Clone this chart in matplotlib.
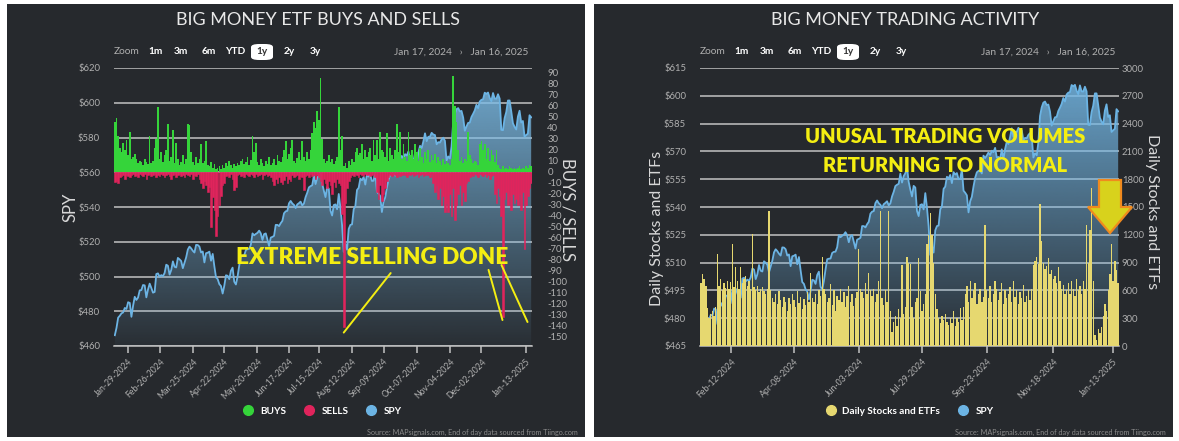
import numpy as np
import pandas as pd
import matplotlib
matplotlib.use("Agg")
import matplotlib.pyplot as plt
from matplotlib.colors import LinearSegmentedColormap, to_rgb
from matplotlib.lines import Line2D
from matplotlib.patches import Rectangle, FancyBboxPatch, Polygon

# ---------------- data ----------------
holidays = ["2024-02-19", "2024-03-29", "2024-05-27", "2024-06-19", "2024-07-04",
            "2024-09-02", "2024-11-28", "2024-12-25", "2025-01-01", "2025-01-09"]

spy_jan24 = [466.2, 470.4, 476.3, 477.4, 478.8, 479.3, 481.9, 481.3, 485.2, 484.8, 476.8]
spy_feb = [483.1, 488.3, 486.5, 487.9, 492.0, 492.2, 495.1, 494.9, 488.0, 492.5, 495.9, 493.4,
           490.7, 491.1, 501.4, 501.8, 499.9, 500.8, 500.2, 502.0]
spy_mar = [506.8, 506.2, 501.1, 503.7, 508.7, 505.6, 505.2, 510.7, 509.9, 508.9, 504.8, 507.9,
           511.0, 515.5, 517.2, 516.2, 514.8, 513.8, 518.2, 518.1]
spy_apr = [517.2, 513.8, 514.4, 508.1, 513.4, 513.7, 514.3, 509.1, 513.0, 505.9, 499.5, 498.5,
           495.6, 494.5, 490.2, 494.7, 500.7, 500.4, 498.5, 503.3, 505.1, 497.0]
spy_may = [495.4, 500.0, 506.3, 511.8, 512.1, 512.2, 515.2, 515.8, 515.9, 518.3, 524.8, 523.7,
           524.5, 525.1, 526.4, 524.8, 521.0, 524.4, 524.8, 521.1, 517.6, 522.4]
spy_jun = [522.8, 523.4, 529.7, 529.7, 529.0, 530.7, 532.0, 536.4, 537.5, 537.8, 542.1, 543.5,
           542.0, 541.2, 539.4, 541.5, 542.2, 543.1, 540.9]
spy_jul = [542.0, 545.7, 548.2, 551.3, 552.0, 552.5, 558.0, 553.2, 556.7, 558.2, 561.6, 553.6,
           549.4, 545.7, 551.4, 550.5, 537.9, 535.1, 541.1, 541.5, 538.7, 547.5]
spy_aug = [539.7, 529.6, 514.1, 518.9, 515.4, 527.4, 529.7, 530.0, 538.7, 540.5, 549.8, 551.0,
           556.3, 555.4, 557.3, 552.9, 558.8, 557.5, 558.3, 555.0, 555.1, 560.4]
spy_sep = [548.8, 547.7, 546.3, 537.1, 543.1, 545.5, 551.1, 555.8, 558.7, 559.5, 559.8, 558.1,
           567.7, 566.4, 567.8, 569.4, 568.1, 570.4, 569.6, 571.9]
spy_oct = [566.7, 567.0, 565.9, 571.1, 565.9, 571.3, 575.2, 574.0, 577.7, 582.4, 577.9, 580.4,
           580.5, 582.7, 581.7, 581.4, 576.1, 577.3, 577.1, 578.9, 579.9, 578.1, 566.7]
spy_nov = [569.1, 567.9, 574.8, 589.1, 593.7, 596.3, 596.9, 595.0, 595.3, 591.5, 583.9, 586.3,
           588.4, 588.6, 591.8, 593.6, 595.6, 598.8, 596.9, 600.7]
spy_dec = [601.7, 602.0, 605.8, 605.1, 605.9, 602.8, 600.9, 605.6, 602.4, 602.3, 604.9, 602.4,
           584.4, 584.2, 591.2, 594.7, 601.3, 601.3, 595.0, 588.2, 586.1]
spy_jan25 = [584.6, 592.0, 595.4, 588.6, 589.5, 580.5, 581.4, 582.2, 592.8, 591.6]

buys = ([45, 49, 33, 22, 18, 26, 20, 29, 15, 36, 12]
        + [14, 16, 12, 8, 10, 9, 6, 12, 9, 7, 33, 8, 10, 22, 30, 59, 12, 18, 9, 15]
        + [20, 44, 10, 14, 38, 8, 26, 12, 6, 9, 15, 7, 12, 44, 43, 18, 9, 6, 14, 8]
        + [12, 25, 8, 10, 28, 6, 5, 9, 4, 7, 3, 4, 5, 3, 6, 4, 8, 5, 10, 6, 4, 7]
        + [5, 8, 6, 10, 12, 7, 9, 14, 6, 11, 33, 18, 26, 9, 6, 12, 8, 5, 10, 7, 14, 6]
        + [8, 12, 6, 15, 10, 9, 14, 20, 28, 12, 16, 22, 29, 10, 8, 13, 18, 11, 28]
        + [14, 10, 18, 12, 20, 35, 45, 40, 55, 47, 85, 30, 12, 8, 10, 15, 9, 12, 7, 10, 14, 59]
        + [20, 33, 5, 8, 4, 10, 6, 12, 9, 18, 22, 15, 17, 25, 12, 20, 14, 18, 22, 10, 29, 15]
        + [29, 12, 36, 20, 18, 14, 35, 10, 22, 15, 12, 20, 44, 18, 36, 12, 25, 14, 10, 36]
        + [15, 20, 12, 25, 18, 10, 22, 14, 8, 18, 12, 20, 9, 15, 11, 16, 8, 14, 10, 6, 12, 7, 10]
        + [8, 6, 12, 87, 60, 45, 20, 10, 14, 8, 12, 10, 36, 15, 12, 8, 10, 9, 6, 25]
        + [28, 20, 25, 12, 22, 10, 20, 15, 9, 20, 6, 4, 3, 5, 3, 4, 3, 5, 4, 3, 4]
        + [3, 4, 5, 3, 4, 3, 5, 4, 6, 5])

sells = ([-9, -8, -10, -5, -4, -3, -6, -3, -4, -5, -3]
         + [-2, -4, -3, -5, -2, -3, -4, -2, -6, -3, -2, -4, -3, -2, -5, -3, -4, -2, -3, -5]
         + [-3, -2, -4, -6, -3, -2, -5, -3, -2, -4, -3, -5, -2, -3, -4, -2, -6, -3, -4, -2]
         + [-6, -10, -15, -8, -12, -18, -14, -50, -23, -35, -58, -40, -30, -22, -12, -10, -4, -3, -5, -2, -6, -16]
         + [-14, -3, -2, -4, -3, -5, -2, -3, -4, -2, -3, -5, -2, -4, -3, -2, -6, -3, -2, -4, -3, -5]
         + [-8, -12, -6, -10, -5, -9, -11, -7, -4, -10, -6, -8, -3, -5, -4, -3, -6, -4, -5]
         + [-16, -4, -3, -5, -2, -4, -3, -6, -3, -5, -8, -12, -6, -10, -15, -8, -12, -20, -9, -14, -6, -10]
         + [-12, -38, -141, -28, -15, -8, -5, -3, -4, -2, -3, -5, -2, -3, -4, -2, -3, -2, -4, -3, -2, -5]
         + [-18, -25, -12, -26, -20, -15, -8, -5, -3, -4, -2, -3, -5, -2, -4, -3, -2, -3, -5, -2]
         + [-3, -2, -4, -3, -2, -5, -3, -2, -4, -3, -2, -3, -5, -2, -10, -18, -12, -25, -15, -30, -22, -36, -28]
         + [-36, -20, -40, -15, -44, -30, -20, -12, -30, -18, -26, -10, -8, -5, -3, -4, -2, -3, -5, -2]
         + [-3, -4, -2, -5, -3, -6, -4, -3, -20, -28, -15, -22, -40, -132, -25, -18, -30, -22, -35, -20, -28]
         + [-25, -30, -20, -35, -18, -70, -30, -22, -15, -10])

daily = ([680, 777, 723, 650, 410, 300, 350, 380, 320, 420, 990]
         + [650, 720, 600, 680, 630, 700, 610, 690, 1100, 640, 850, 700, 620, 850, 680, 720, 760, 650, 700, 620]
         + [1210, 640, 600, 650, 580, 620, 640, 590, 560, 610, 1460, 600, 520, 480, 560, 450, 590, 500, 420, 530]
         + [480, 380, 520, 450, 560, 500, 420, 590, 460, 530, 400, 510, 440, 580, 470, 790, 520, 480, 560, 450, 600, 540]
         + [960, 620, 560, 480, 520, 670, 440, 600, 380, 540, 500, 620, 470, 580, 420, 540, 650, 480, 560, 430, 520, 580]
         + [1050, 620, 580, 520, 680, 560, 790, 600, 540, 620, 480, 560, 700, 1460, 520, 440, 600, 480, 1460]
         + [380, 150, 260, 320, 220, 400, 300, 870, 350, 420, 960, 900, 880, 420, 300, 480, 520, 950, 590, 380, 450, 560]
         + [1100, 1200, 1440, 1200, 900, 560, 400, 300, 250, 320, 280, 350, 260, 230, 300, 250, 380, 220, 300, 260, 410, 280]
         + [420, 560, 650, 480, 700, 520, 600, 680, 450, 560, 620, 480, 530, 1310, 600, 520, 650, 480, 560, 700]
         + [620, 500, 580, 680, 450, 600, 520, 560, 640, 480, 700, 530, 600, 450, 580, 520, 660, 480, 540, 600, 500, 620, 870]
         + [920, 960, 880, 1530, 1130, 900, 830, 860, 950, 780, 820, 720, 760, 680, 850, 700, 620, 660, 560, 600]
         + [680, 560, 700, 620, 540, 720, 600, 650, 560, 700, 620, 1310, 900, 1250, 1700, 700, 120, 60, 180, 140, 200]
         + [320, 450, 380, 600, 780, 1100, 700, 920, 820, 680])

spy = (spy_jan24 + spy_feb + spy_mar + spy_apr + spy_may + spy_jun + spy_jul
       + spy_aug + spy_sep + spy_oct + spy_nov + spy_dec + spy_jan25)

left_tick_dates = ["2024-01-29", "2024-02-26", "2024-03-25", "2024-04-22", "2024-05-20",
                   "2024-06-17", "2024-07-15", "2024-08-12", "2024-09-09", "2024-10-07",
                   "2024-11-04", "2024-12-02", "2025-01-13"]
right_tick_dates = ["2024-02-12", "2024-04-08", "2024-06-03", "2024-07-29", "2024-09-23",
                    "2024-11-18", "2025-01-13"]
left_spy_ticks = list(range(460, 621, 20))
bs_ticks = list(range(-150, 91, 10))
right_spy_ticks = list(range(465, 616, 15))
daily_ticks = list(range(0, 3001, 300))

# ---------------- styling ----------------
W, H = 1179, 441
BG = "#26292d"
GRID = "#c2c2c2"
TXT = "#b0b0b0"
GREEN = "#35d43a"
RED = "#e0245c"
BLUE = "#6cb4e4"
YELLOW = "#e6d870"
ANNO = "#f4ee12"

plt.rcParams["font.family"] = ["Lato", "DejaVu Sans"]

dates = pd.bdate_range("2024-01-17", "2025-01-16")
dates = dates[~dates.isin(pd.to_datetime(holidays))]
x = np.arange(len(dates))

fig = plt.figure(figsize=(W / 100, H / 100), dpi=100)
fig.patch.set_facecolor("white")


def fx(px):
    return px / W


def fy(py):
    return 1 - py / H


def rect(x0, y0, x1, y1):
    return [fx(x0), fy(y1), (x1 - x0) / W, (y1 - y0) / H]


for x0, x1 in [(7, 585), (594, 1173)]:
    fig.add_artist(Rectangle((fx(x0), fy(437)), (x1 - x0) / W, 433 / H,
                             transform=fig.transFigure, facecolor=BG,
                             edgecolor="none", zorder=-5))


def spy_area(ax, lo, hi, top_rgb):
    r, g, b = to_rgb(top_rgb)
    cmap = LinearSegmentedColormap.from_list("g", [(r, g, b, 0.04), (r, g, b, 0.88)])
    poly = ax.fill_between(x, spy, lo, color="none", lw=0)
    grad = np.linspace(1, 0, 256).reshape(-1, 1)
    im = ax.imshow(grad, cmap=cmap, aspect="auto", origin="upper",
                   extent=[-0.5, len(x) - 0.5, lo, hi], zorder=1, vmin=0, vmax=1)
    im.set_clip_path(poly.get_paths()[0], transform=ax.transData)
    ax.plot(x, spy, color=BLUE, lw=1.3, zorder=2)
    ax.set_xlim(-0.5, len(x) - 0.5)
    ax.set_ylim(lo, hi)


def style_main(ax, ticks, tick_dates):
    ax.set_facecolor("none")
    ax.set_yticks(ticks)
    ax.set_yticklabels([f"${t}" for t in ticks])
    ax.grid(axis="y", color=GRID, lw=1.1)
    ax.set_axisbelow(True)
    for s in ["top", "left", "right"]:
        ax.spines[s].set_visible(False)
    ax.spines["bottom"].set_color(GRID)
    ax.spines["bottom"].set_linewidth(1.1)
    ax.tick_params(axis="y", length=0, colors=TXT, labelsize=6.8, pad=10)
    pos = [dates.get_loc(pd.Timestamp(d)) for d in tick_dates]
    ax.set_xticks(pos)
    ax.set_xticklabels([pd.Timestamp(d).strftime("%b-%d-%Y") for d in tick_dates],
                       rotation=45, ha="right", va="top", rotation_mode="anchor")
    ax.tick_params(axis="x", length=5, width=1.1, color=GRID, colors=TXT,
                   labelsize=6.2, pad=3)


def style_twin(ax, ticks, pad):
    ax.set_yticks(ticks)
    ax.set_yticklabels([str(t) for t in ticks])
    for s in ax.spines.values():
        s.set_visible(False)
    ax.tick_params(axis="y", length=0, colors=TXT, labelsize=6.8, pad=pad)


def zoom_row(x0, xr, y=52):
    items = [("Zoom", 0), ("1m", 34), ("3m", 60), ("6m", 88), ("YTD", 111),
             ("1y", 148), ("2y", 170), ("3y", 196)]
    for lab, off in items:
        if lab == "1y":
            fig.add_artist(FancyBboxPatch((fx(x0 + off - 11), fy(y + 8)), 22 / W, 16 / H,
                                          boxstyle="round,pad=0,rounding_size=0.007",
                                          transform=fig.transFigure, facecolor="white",
                                          edgecolor="none"))
            fig.text(fx(x0 + off), fy(y), lab, ha="center", va="center", fontsize=7.3,
                     color="#333333", fontweight="bold")
        elif lab == "Zoom":
            fig.text(fx(x0 + off), fy(y), lab, ha="left", va="center", fontsize=7.3, color=TXT)
        else:
            fig.text(fx(x0 + off), fy(y), lab, ha="left", va="center", fontsize=7.3,
                     color="white", fontweight="bold")
    fig.text(fx(xr), fy(y), "Jan 17, 2024   \u203a   Jan 16, 2025", ha="right", va="center",
             fontsize=7.3, color=TXT)


def legend(items, cx):
    handles = [Line2D([], [], ls="", marker="o", markersize=7, markerfacecolor=c,
                      markeredgecolor=c) for _, c in items]
    fig.legend(handles, [n for n, _ in items], loc="center", bbox_to_anchor=(fx(cx), fy(411)),
               ncol=len(items), frameon=False, labelcolor="white", handletextpad=0.2,
               columnspacing=1.3, prop={"weight": "bold", "size": 7.2})


# ---------------- left panel ----------------
ax1 = fig.add_axes(rect(114, 68, 532, 346))
spy_area(ax1, 460, 620, "#7cbde8")
style_main(ax1, left_spy_ticks, left_tick_dates)

ax1b = ax1.twinx()
ax1b.bar(x, buys, width=1.0, color=GREEN, lw=0, zorder=3)
ax1b.bar(x, sells, width=1.0, color=RED, edgecolor=RED, lw=0.4, zorder=3)
ax1b.set_ylim(-158.2, 94.5)
ax1b.set_xlim(-0.5, len(x) - 0.5)
style_twin(ax1b, bs_ticks, 11)

ax1b.text(0.617, 0.317, "EXTREME SELLING DONE", transform=ax1b.transAxes, ha="center",
          va="center", fontsize=16.3, fontweight="heavy", color=ANNO, zorder=6)
for start, end in [((166.3, -91.9), (138, -146)), ((225.3, -89), (233.7, -134.6)),
                   ((233.1, -84.6), (248.8, -136.4))]:
    ax1b.annotate("", xy=end, xytext=start,
                  arrowprops=dict(arrowstyle="-", color=ANNO, lw=1.4, shrinkA=0, shrinkB=0))

fig.text(fx(318), fy(20), "BIG MONEY ETF BUYS AND SELLS", ha="center", va="center",
         fontsize=13, color="#e8e8e8")
zoom_row(114, 528)
fig.text(fx(70), fy(207), "SPY", rotation=90, ha="center", va="center", fontsize=12,
         color="#d8d8d8")
fig.text(fx(568), fy(210), "BUYS / SELLS", rotation=270, ha="center", va="center",
         fontsize=12, color="#d8d8d8")
legend([("BUYS", GREEN), ("SELLS", RED), ("SPY", BLUE)], 320)
fig.text(fx(578), fy(432), "Source: MAPsignals.com, End of day data sourced from Tiingo.com",
         ha="right", va="center", fontsize=5.2, color="#8a8a8a")

# ---------------- right panel ----------------
ax2 = fig.add_axes(rect(700, 68, 1119, 346))
spy_area(ax2, 465, 615, "#74b8e6")
style_main(ax2, right_spy_ticks, right_tick_dates)

ax2b = ax2.twinx()
ax2b.bar(x, daily, width=0.82, color=YELLOW, lw=0, zorder=3)
ax2b.set_ylim(0, 3000)
ax2b.set_xlim(-0.5, len(x) - 0.5)
style_twin(ax2b, daily_ticks, 2)

ax2b.text(0.585, 0.752, "UNUSAL TRADING VOLUMES", transform=ax2b.transAxes, ha="center",
          va="center", fontsize=14.5, fontweight="heavy", color=ANNO, zorder=6)
ax2b.text(0.585, 0.651, "RETURNING TO NORMAL", transform=ax2b.transAxes, ha="center",
          va="center", fontsize=14.5, fontweight="heavy", color=ANNO, zorder=6)
arrow_px = [(1099, 180), (1121, 180), (1121, 207), (1132, 207), (1110, 233),
            (1088, 207), (1099, 207)]
fig.add_artist(Polygon([(fx(a), fy(b)) for a, b in arrow_px], closed=True,
                       transform=fig.transFigure, facecolor="#d8d21c",
                       edgecolor="#f08a1e", lw=1.6, zorder=10))

fig.text(fx(905), fy(20), "BIG MONEY TRADING ACTIVITY", ha="center", va="center",
         fontsize=13, color="#e8e8e8")
zoom_row(700, 1115)
fig.text(fx(657), fy(228), "Daily Stocks and ETFs", rotation=90, ha="center", va="center",
         fontsize=11.5, color="#d8d8d8")
fig.text(fx(1152), fy(212), "Daily Stocks and ETFs", rotation=270, ha="center", va="center",
         fontsize=11.5, color="#d8d8d8")
legend([("Daily Stocks and ETFs", YELLOW), ("SPY", BLUE)], 907)
fig.text(fx(1166), fy(432), "Source: MAPsignals.com, End of day data sourced from Tiingo.com",
         ha="right", va="center", fontsize=5.2, color="#8a8a8a")

fig.savefig("out.png", dpi=100, facecolor="white")
